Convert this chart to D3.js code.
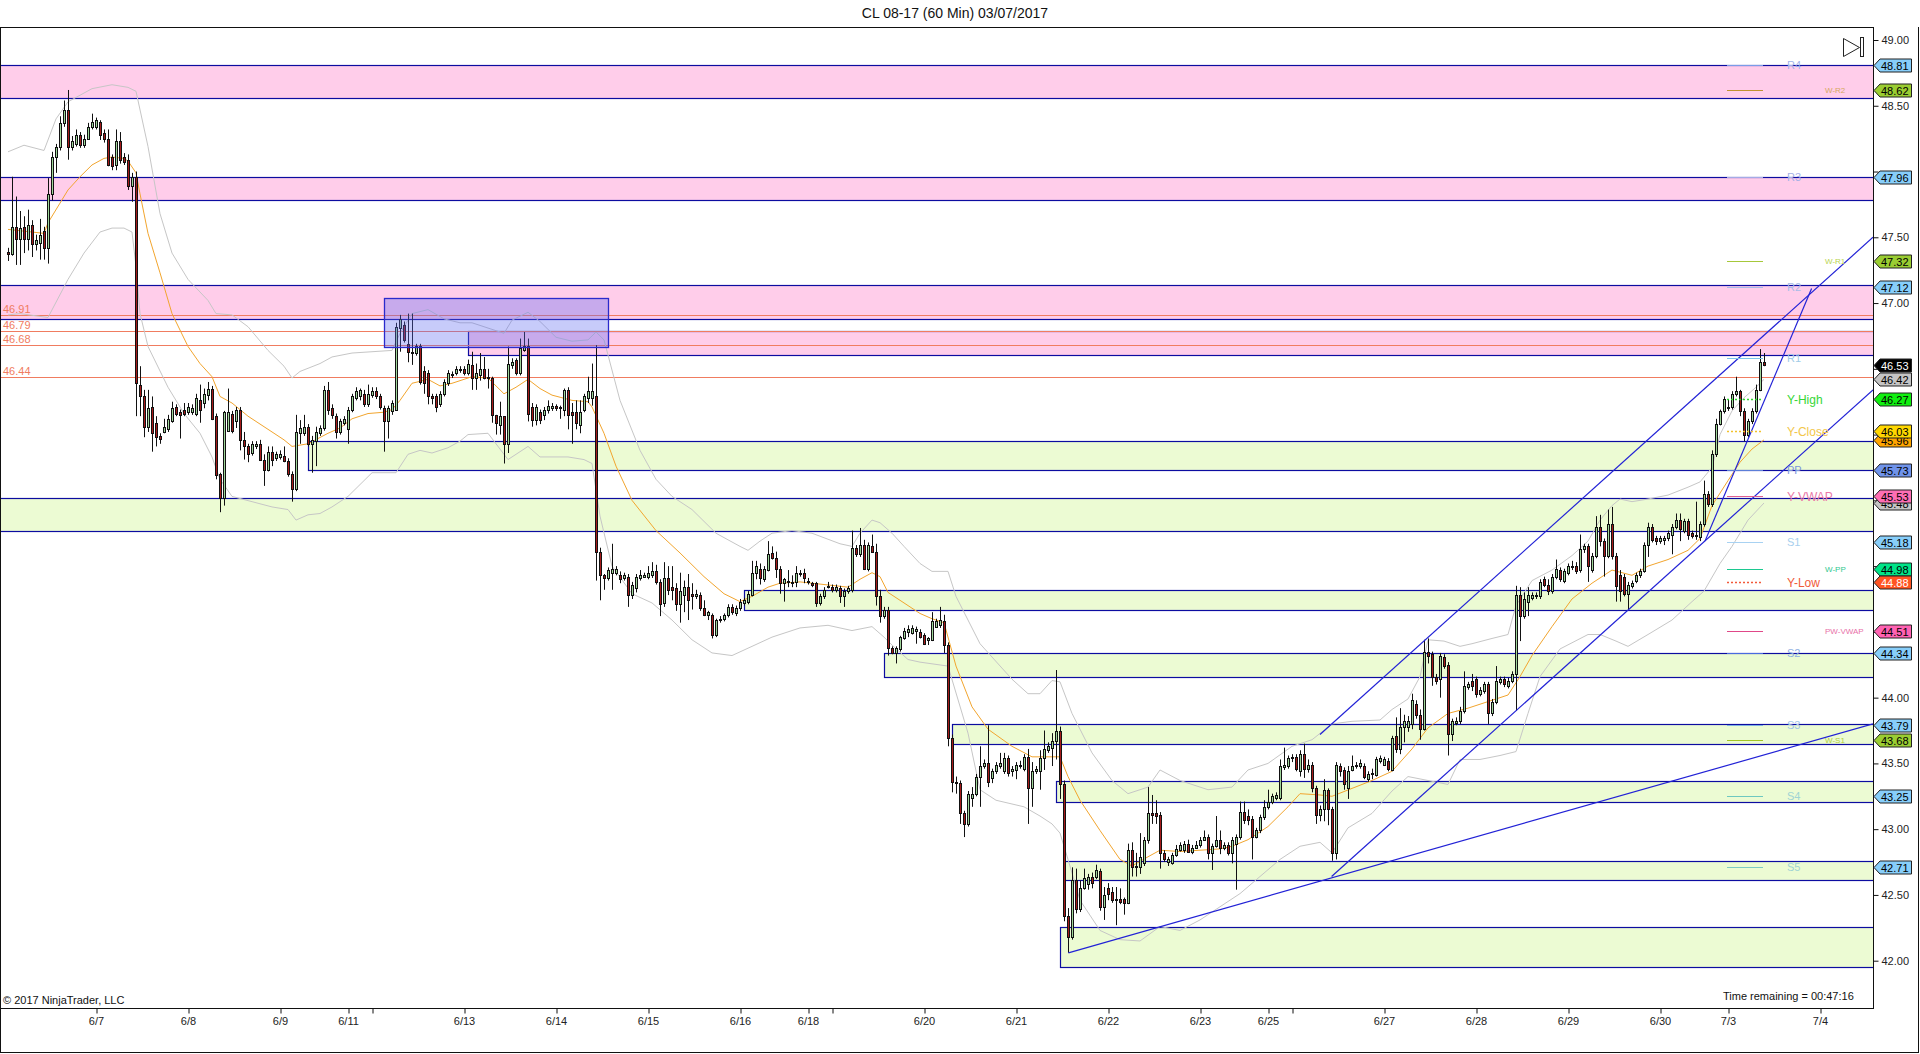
<!DOCTYPE html>
<html><head><meta charset="utf-8">
<script src="https://cdn.jsdelivr.net/npm/d3@7/dist/d3.min.js"></script>
<style>
html,body{margin:0;padding:0;background:#fff;}
svg{display:block;font-family:"Liberation Sans",Arial,sans-serif;}
</style></head><body>
<svg id="c" width="1920" height="1054"></svg>
<script>
// ---------------- DATA ----------------
const chartTitle = "CL 08-17 (60 Min)  03/07/2017";
const opens = [
47.39,47.37,47.58,47.49,47.58,47.49,47.59,47.45,47.46,47.55,
47.42,47.83,48.11,48.19,48.37,48.47,48.19,48.21,48.28,48.20,
48.25,48.34,48.34,48.38,48.29,48.25,48.11,48.05,48.23,48.11,
48.09,47.89,47.96,46.38,46.29,46.06,46.21,46.09,45.99,46.02,
46.04,46.10,46.21,46.17,46.19,46.17,46.17,46.16,46.26,46.24,
46.30,46.35,46.14,45.70,45.52,46.03,46.16,46.10,46.19,45.96,
45.91,45.86,45.91,45.93,45.81,45.73,45.87,45.82,45.83,45.84,
45.80,45.70,45.59,46.01,46.01,46.06,45.93,45.95,46.01,46.05,
46.34,46.20,46.14,46.02,46.09,46.04,46.19,46.28,46.29,46.31,
46.23,46.30,46.33,46.29,46.20,46.10,46.18,46.19,46.81,46.83,
46.69,46.63,46.62,46.67,46.48,46.47,46.29,46.29,46.23,46.31,
46.39,46.45,46.47,46.50,46.50,46.47,46.53,46.43,46.45,46.50,
46.44,46.43,46.15,46.07,46.14,45.93,46.53,46.57,46.47,46.64,
46.67,46.21,46.11,46.17,46.15,46.19,46.20,46.22,46.21,46.19,
46.34,46.17,46.17,46.07,46.19,46.28,46.28,46.29,45.11,44.93,
44.91,44.95,44.95,44.93,44.91,44.92,44.78,44.83,44.91,44.92,
44.92,44.93,44.96,44.88,44.72,44.91,44.84,44.83,44.71,44.78,
44.84,44.79,44.77,44.78,44.68,44.63,44.63,44.48,44.59,44.60,
44.63,44.69,44.64,44.68,44.72,44.73,44.78,44.95,44.98,44.90,
44.97,45.10,45.06,44.98,44.87,44.89,44.88,44.88,44.94,44.95,
44.89,44.87,44.87,44.72,44.77,44.85,44.84,44.82,44.83,44.77,
44.81,44.82,45.14,45.09,45.16,44.98,45.15,45.11,44.77,44.62,
44.67,44.38,44.34,44.37,44.45,44.50,44.49,44.51,44.50,44.48,
44.44,44.44,44.54,44.55,44.58,44.40,43.69,43.36,43.35,43.12,
43.04,43.24,43.27,43.40,43.48,43.50,43.39,43.44,43.48,43.44,
43.54,43.44,43.45,43.48,43.46,43.55,43.31,43.44,43.44,43.54,
43.60,43.62,43.67,43.75,43.34,42.34,42.18,42.61,42.39,42.55,
42.58,42.64,42.64,42.68,42.41,42.55,42.52,42.47,42.47,42.47,
42.44,42.84,42.71,42.71,42.74,42.92,43.12,43.12,43.11,42.82,
42.75,42.74,42.80,42.84,42.84,42.89,42.83,42.86,42.88,42.92,
42.94,42.82,42.87,42.92,42.86,42.88,42.82,42.89,42.94,43.13,
43.10,43.08,42.94,42.99,43.09,43.17,43.21,43.24,43.24,43.47,
43.48,43.54,43.55,43.44,43.57,43.46,43.49,43.31,43.11,43.15,
43.30,43.15,42.82,43.48,43.45,43.31,43.45,43.48,43.48,43.48,
43.38,43.42,43.41,43.52,43.49,43.52,43.45,43.71,43.61,43.78,
43.78,43.80,43.95,43.87,43.76,44.35,44.33,44.16,44.14,44.31,
44.25,43.72,43.81,43.82,43.90,44.08,44.13,44.14,44.03,44.05,
44.10,43.88,43.97,44.12,44.14,44.09,44.13,44.18,44.78,44.62,
44.73,44.76,44.77,44.77,44.90,44.86,44.81,44.92,44.97,44.89,
44.95,44.99,45.00,44.97,45.13,45.15,44.97,45.08,45.30,45.19,
45.08,45.32,45.08,44.93,44.92,44.79,44.85,44.89,44.93,44.96,
45.16,45.30,45.21,45.19,45.20,45.21,45.24,45.30,45.35,45.27,
45.34,45.25,45.24,45.22,45.32,45.55,45.47,45.85,46.08,46.18,
46.21,46.21,46.31,46.33,46.18,46.00,46.10,46.18,46.34,46.55];
const highs = [
47.42,47.96,47.81,47.70,47.66,47.71,47.63,47.52,47.64,47.58,
47.95,48.15,48.21,48.42,48.54,48.62,48.27,48.32,48.30,48.28,
48.37,48.44,48.41,48.39,48.32,48.32,48.13,48.32,48.30,48.14,
48.13,47.99,48.00,46.52,46.34,46.34,46.29,46.14,46.01,46.12,
46.15,46.25,46.23,46.19,46.24,46.24,46.23,46.31,46.38,46.35,
46.40,46.37,46.16,45.71,46.18,46.35,46.18,46.21,46.21,46.02,
45.93,45.95,45.95,45.96,45.85,45.91,45.91,45.87,45.88,45.91,
45.82,45.72,46.15,46.11,46.15,46.08,45.99,46.06,46.07,46.37,
46.40,46.23,46.16,46.12,46.14,46.21,46.31,46.36,46.35,46.34,
46.38,46.36,46.36,46.31,46.22,46.22,46.26,46.85,46.91,46.86,
46.92,46.92,46.69,46.69,46.52,46.49,46.31,46.31,46.33,46.42,
46.49,46.48,46.52,46.52,46.52,46.57,46.63,46.54,46.62,46.59,
46.50,46.44,46.15,46.25,46.14,46.67,46.58,46.58,46.73,46.78,
46.73,46.24,46.23,46.19,46.21,46.26,46.24,46.23,46.22,46.35,
46.36,46.24,46.26,46.26,46.31,46.44,46.54,46.68,45.14,44.94,
44.99,45.17,45.00,44.96,44.95,44.94,44.88,44.94,44.97,44.95,
45.00,45.03,45.01,44.90,45.03,45.00,45.00,44.87,44.95,44.89,
44.94,44.87,44.82,44.80,44.74,44.66,44.64,44.60,44.62,44.64,
44.71,44.71,44.70,44.75,44.76,44.81,45.04,45.04,45.02,45.00,
45.19,45.15,45.11,45.00,44.91,44.97,44.93,45.00,44.97,44.98,
44.91,44.88,44.88,44.79,44.84,44.88,44.86,44.86,44.85,44.83,
44.85,45.27,45.16,45.29,45.20,45.18,45.24,45.17,44.82,44.69,
44.69,44.39,44.39,44.47,44.53,44.55,44.55,44.54,44.52,44.49,
44.46,44.65,44.60,44.69,44.63,44.42,43.72,43.40,43.37,43.14,
43.29,43.32,43.42,43.63,43.53,43.79,43.46,43.51,43.58,43.58,
43.56,43.48,43.51,43.52,43.57,43.61,43.51,43.48,43.60,43.75,
43.66,43.73,44.21,43.78,43.37,42.40,42.71,42.70,42.61,42.70,
42.66,42.67,42.73,42.70,42.56,42.59,42.56,42.56,42.55,42.48,
42.89,42.90,42.82,42.97,42.94,43.32,43.26,43.22,43.13,42.84,
42.79,42.82,42.88,42.90,42.91,42.92,42.88,42.91,42.94,42.99,
42.96,42.89,43.10,42.99,42.90,42.90,42.94,42.96,43.21,43.21,
43.15,43.10,43.01,43.11,43.22,43.30,43.27,43.28,43.53,43.62,
43.56,43.57,43.57,43.60,43.65,43.53,43.51,43.33,43.18,43.38,
43.31,43.17,43.51,43.50,43.47,43.48,43.56,43.51,43.53,43.50,
43.44,43.46,43.55,43.56,43.55,43.54,43.71,43.85,43.92,43.87,
43.86,44.03,43.98,43.91,44.44,44.45,44.35,44.18,44.34,44.33,
44.27,43.84,43.85,43.93,44.20,44.12,44.18,44.16,44.08,44.12,
44.12,43.99,44.24,44.16,44.16,44.15,44.20,44.85,44.84,44.80,
44.84,44.80,44.80,44.90,44.92,44.90,44.94,45.05,44.99,44.98,
45.02,45.04,45.03,45.24,45.17,45.17,45.10,45.38,45.39,45.21,
45.43,45.45,45.10,44.97,44.94,44.88,44.89,44.95,44.98,45.18,
45.33,45.32,45.23,45.23,45.23,45.27,45.32,45.40,45.40,45.36,
45.36,45.27,45.49,45.34,45.65,45.57,45.88,46.12,46.19,46.29,
46.27,46.33,46.44,46.34,46.20,46.12,46.20,46.38,46.65,46.62];
const lows = [
47.32,47.36,47.29,47.29,47.38,47.40,47.35,47.40,47.33,47.33,
47.30,47.78,47.99,48.16,48.34,48.09,48.16,48.19,48.18,48.18,
48.24,48.32,48.32,48.24,48.22,48.04,48.01,48.01,48.06,48.05,
47.86,47.77,46.14,46.14,45.98,46.02,45.87,45.91,45.93,46.01,
46.02,46.09,46.14,45.97,46.14,46.15,46.15,46.14,46.09,46.20,
46.26,46.11,45.66,45.41,45.46,46.02,46.01,46.05,45.88,45.81,
45.79,45.84,45.89,45.80,45.61,45.72,45.76,45.80,45.81,45.79,
45.68,45.49,45.57,45.93,45.99,45.91,45.71,45.76,45.99,46.03,
46.15,46.12,45.97,46.00,46.07,45.93,46.17,46.26,46.26,46.21,
46.21,46.28,46.27,46.19,45.87,45.97,46.15,46.18,46.63,46.70,
46.55,46.53,46.60,46.38,46.31,46.23,46.23,46.17,46.21,46.29,
46.37,46.43,46.45,46.47,46.45,46.45,46.34,46.34,46.41,46.42,
46.35,46.09,46.00,46.00,45.78,45.86,46.50,46.45,46.45,46.63,
46.10,46.06,46.07,46.08,46.11,46.16,46.18,46.18,46.12,46.14,
46.04,45.93,46.04,46.01,46.17,46.24,46.22,44.89,44.74,44.82,
44.89,44.82,44.93,44.87,44.89,44.69,44.75,44.80,44.89,44.91,
44.90,44.91,44.86,44.62,44.69,44.78,44.74,44.66,44.57,44.65,
44.59,44.67,44.75,44.66,44.62,44.59,44.45,44.46,44.57,44.58,
44.61,44.63,44.62,44.66,44.70,44.71,44.77,44.90,44.86,44.88,
44.96,45.05,44.91,44.79,44.73,44.84,44.84,44.84,44.92,44.87,
44.86,44.84,44.69,44.70,44.75,44.83,44.80,44.80,44.72,44.69,
44.79,44.80,45.07,45.07,44.97,44.96,45.10,44.70,44.57,44.60,
44.32,44.33,44.26,44.35,44.44,44.46,44.48,44.41,44.45,44.40,
44.40,44.43,44.53,44.53,44.34,43.63,43.28,43.27,43.04,42.94,
43.02,43.17,43.25,43.17,43.46,43.32,43.35,43.42,43.46,43.42,
43.40,43.40,43.38,43.46,43.44,43.04,43.17,43.42,43.30,43.45,
43.58,43.48,43.53,43.23,42.30,42.06,42.16,42.36,42.37,42.54,
42.54,42.55,42.62,42.38,42.31,42.46,42.44,42.27,42.43,42.35,
42.43,42.64,42.64,42.66,42.72,42.89,43.04,43.04,42.70,42.75,
42.72,42.73,42.79,42.83,42.82,42.82,42.81,42.85,42.86,42.91,
42.77,42.69,42.86,42.81,42.84,42.80,42.74,42.54,42.92,43.04,
43.03,42.77,42.93,42.97,43.07,43.15,43.19,43.22,43.22,43.45,
43.46,43.51,43.44,43.40,43.39,43.43,43.28,43.04,43.06,43.06,
43.03,42.76,42.77,43.40,43.30,43.23,43.44,43.46,43.46,43.38,
43.36,43.38,43.40,43.50,43.48,43.44,43.44,43.58,43.57,43.66,
43.74,43.76,43.84,43.68,43.75,44.26,44.09,44.10,44.00,44.22,
43.56,43.67,43.79,43.80,43.88,44.06,44.05,44.00,44.01,44.03,
43.80,43.86,43.95,44.10,44.08,44.07,44.11,43.90,44.43,44.60,
44.62,44.74,44.75,44.75,44.84,44.78,44.79,44.90,44.88,44.87,
44.93,44.97,44.94,44.95,45.10,44.88,44.95,45.06,45.15,44.92,
45.06,45.05,44.73,44.73,44.77,44.67,44.83,44.87,44.91,44.95,
45.07,45.18,45.16,45.17,45.16,45.19,45.09,45.28,45.19,45.25,
45.20,45.21,45.20,45.19,45.30,45.45,45.45,45.83,46.07,46.16,
46.18,46.19,46.29,46.14,45.95,45.98,46.08,46.16,46.33,46.52];
const closes = [
47.37,47.58,47.49,47.57,47.49,47.59,47.45,47.48,47.52,47.42,
47.83,48.11,48.19,48.37,48.47,48.19,48.23,48.28,48.20,48.25,
48.34,48.38,48.39,48.28,48.25,48.05,48.04,48.23,48.09,48.07,
47.89,47.96,46.39,46.29,46.06,46.20,46.01,45.98,45.97,46.06,
46.12,46.20,46.16,46.15,46.16,46.21,46.20,46.28,46.19,46.31,
46.35,46.12,45.69,45.52,46.17,46.17,46.03,46.19,45.96,45.91,
45.85,45.93,45.93,45.81,45.73,45.87,45.81,45.85,45.85,45.80,
45.70,45.59,46.02,46.05,46.06,45.93,45.96,46.02,46.05,46.34,
46.19,46.15,46.02,46.10,46.12,46.19,46.29,46.33,46.34,46.23,
46.31,46.33,46.29,46.21,46.10,46.20,46.24,46.82,46.88,46.72,
46.63,46.62,46.67,46.40,46.39,46.29,46.28,46.21,46.31,46.40,
46.47,46.46,46.50,46.50,46.47,46.54,46.43,46.47,46.50,46.43,
46.43,46.15,46.09,46.14,45.93,46.54,46.55,46.47,46.66,46.67,
46.16,46.11,46.21,46.11,46.19,46.22,46.22,46.20,46.20,46.34,
46.15,46.15,46.09,46.17,46.29,46.33,46.33,45.11,44.93,44.91,
44.97,44.98,44.98,44.90,44.93,44.78,44.86,44.92,44.93,44.93,
44.95,44.96,44.88,44.71,44.91,44.82,44.82,44.71,44.81,44.84,
44.74,44.77,44.79,44.68,44.63,44.65,44.48,44.59,44.60,44.63,
44.69,44.65,44.68,44.73,44.74,44.79,44.95,45.00,44.91,44.98,
45.09,45.06,44.98,44.87,44.90,44.88,44.88,44.95,44.95,44.91,
44.88,44.86,44.72,44.77,44.82,44.85,44.82,44.84,44.77,44.81,
44.83,45.14,45.09,45.16,44.98,45.16,45.11,44.77,44.62,44.67,
44.38,44.34,44.38,44.46,44.51,44.52,44.53,44.52,44.46,44.41,
44.45,44.58,44.58,44.59,44.40,43.69,43.36,43.36,43.12,43.04,
43.27,43.27,43.40,43.48,43.50,43.36,43.44,43.49,43.50,43.54,
43.43,43.46,43.49,43.49,43.55,43.31,43.44,43.46,43.54,43.61,
43.63,43.67,43.75,43.34,42.34,42.18,42.61,42.39,42.55,42.63,
42.64,42.59,42.69,42.41,42.50,42.51,42.46,42.46,42.45,42.44,
42.84,42.71,42.72,42.79,42.92,43.12,43.11,43.10,42.82,42.77,
42.77,42.80,42.85,42.88,42.89,42.83,42.86,42.88,42.92,42.94,
42.82,42.87,42.92,42.86,42.88,42.82,42.92,42.94,43.13,43.07,
43.07,42.94,42.99,43.09,43.17,43.21,43.25,43.26,43.48,43.49,
43.54,43.55,43.46,43.57,43.46,43.49,43.31,43.11,43.15,43.30,
43.15,42.82,43.49,43.44,43.34,43.44,43.48,43.49,43.50,43.40,
43.42,43.43,43.53,43.54,43.53,43.46,43.69,43.61,43.78,43.82,
43.82,43.98,43.87,43.76,44.35,44.32,44.16,44.13,44.32,44.24,
43.72,43.82,43.82,43.90,44.09,44.10,44.09,44.03,44.06,44.10,
43.88,43.97,44.13,44.14,44.10,44.13,44.18,44.78,44.62,44.75,
44.78,44.78,44.78,44.88,44.86,44.81,44.92,44.98,44.90,44.96,
45.00,45.00,44.96,45.13,45.15,45.00,45.08,45.30,45.19,45.08,
45.32,45.08,44.85,44.81,44.79,44.86,44.87,44.93,44.96,45.16,
45.30,45.20,45.19,45.21,45.21,45.25,45.30,45.35,45.28,45.34,
45.24,45.23,45.23,45.32,45.55,45.47,45.85,46.08,46.18,46.27,
46.20,46.31,46.33,46.18,46.00,46.10,46.18,46.34,46.55,46.53];

// channel indicator (orange middle line, grey upper/lower lines), read at sample bars
const upperIdx = [0,4,9,12,15,18,21,26,30,32,35,38,41,45,50,52,56,60,65,69,71,73,78,81,86,91,96,98,101,105,109,113,116,124,126,130,133,137,141,145,147,149,153,158,162,166,171,177,183,185,188,191,196,201,208,211,213,216,218,221,224,228,231,235,237,243,251,255,258,261,263,266,271,276,280,285,288,293,300,306,310,315,321,326,331,336,343,346,350,353,355,359,363,366,371,375,377,381,386,391,395,398,401,403,406,410,415,420,423,426,428,431,434,437,439];
const upperVal = [48.15,48.20,48.16,48.40,48.53,48.58,48.63,48.66,48.64,48.61,48.19,47.68,47.38,47.18,47.02,46.92,46.91,46.82,46.64,46.52,46.43,46.48,46.54,46.59,46.62,46.63,46.64,46.77,46.92,46.95,46.88,46.85,46.85,46.77,46.87,46.93,46.86,46.74,46.71,46.72,46.78,46.72,46.26,45.88,45.66,45.53,45.43,45.25,45.15,45.12,45.19,45.25,45.27,45.25,45.17,45.15,45.25,45.35,45.33,45.25,45.15,45.02,44.96,44.96,44.77,44.41,44.14,44.03,44.03,44.13,44.12,43.88,43.58,43.37,43.27,43.32,43.45,43.37,43.30,43.32,43.45,43.50,43.63,43.68,43.80,43.82,43.83,43.91,43.99,44.16,44.44,44.43,44.39,44.41,44.45,44.48,44.70,44.89,44.97,45.08,45.19,45.35,45.46,45.51,45.49,45.51,45.54,45.60,45.64,45.75,46.00,46.18,46.28,46.36,46.42];
const lowerIdx = [0,3,10,15,19,23,26,29,31,32,33,35,40,44,48,51,53,56,61,66,70,72,75,78,81,85,88,91,94,97,100,103,106,110,113,115,120,125,130,133,140,144,146,148,151,156,161,166,171,176,181,186,191,198,205,211,216,219,221,225,228,235,240,243,247,254,258,261,263,265,268,273,278,283,288,293,298,303,308,313,318,323,328,331,335,341,346,350,355,360,363,368,373,377,380,383,388,395,398,402,405,410,416,421,424,428,431,435,439];
const lowerVal = [46.91,46.92,46.89,47.18,47.38,47.54,47.57,47.57,47.54,47.28,46.92,46.67,46.36,46.16,46.01,45.83,45.66,45.53,45.49,45.45,45.43,45.35,45.39,45.40,45.45,45.53,45.62,45.71,45.71,45.71,45.85,45.88,45.86,45.90,45.95,46.00,46.01,45.81,45.91,45.83,45.83,45.81,45.78,45.38,45.00,44.79,44.72,44.59,44.44,44.34,44.32,44.39,44.46,44.53,44.55,44.51,44.54,44.46,44.40,44.29,44.27,44.24,43.73,43.30,43.22,43.17,43.10,43.04,42.97,42.77,42.46,42.23,42.16,42.15,42.26,42.23,42.31,42.41,42.51,42.64,42.77,42.87,42.90,42.82,43.01,43.12,43.29,43.40,43.37,43.34,43.53,43.53,43.56,43.59,43.88,44.16,44.37,44.48,44.48,44.43,44.39,44.48,44.59,44.73,44.81,45.02,45.15,45.35,45.48];
const midIdx = [0,6,9,10,13,15,18,21,24,26,29,30,32,33,35,38,41,45,48,51,53,56,60,65,69,71,75,80,83,86,90,94,96,98,101,105,108,111,113,116,120,124,127,130,133,136,141,145,146,149,152,156,162,168,174,179,183,186,190,193,198,204,210,213,216,218,220,225,228,231,234,237,241,245,251,256,260,263,265,268,273,278,281,285,288,293,298,303,306,310,315,320,323,328,331,336,341,346,351,355,360,365,370,375,378,381,386,391,396,401,406,410,415,420,423,426,430,433,436,439];
const midVal = [47.56,47.54,47.53,47.61,47.76,47.86,47.96,48.05,48.10,48.11,48.10,48.08,47.99,47.83,47.53,47.23,46.92,46.67,46.54,46.44,46.29,46.24,46.14,46.04,45.96,45.91,45.93,46.01,46.05,46.12,46.16,46.17,46.19,46.26,46.39,46.42,46.37,46.39,46.41,46.44,46.43,46.31,46.36,46.42,46.35,46.30,46.26,46.25,46.21,46.01,45.76,45.50,45.27,45.10,44.92,44.79,44.73,44.77,44.84,44.87,44.88,44.86,44.84,44.90,44.95,44.92,44.80,44.70,44.64,44.60,44.57,44.24,43.93,43.76,43.63,43.55,43.55,43.55,43.40,43.22,42.99,42.77,42.72,42.79,42.84,42.83,42.84,42.85,42.87,42.92,43.02,43.17,43.27,43.26,43.25,43.31,43.37,43.44,43.61,43.77,43.88,43.92,43.97,44.02,44.16,44.32,44.54,44.75,44.87,44.97,44.93,45.00,45.05,45.12,45.21,45.46,45.65,45.79,45.89,45.96];

// time axis
const dateTickIdx = [22,45,68,85,91,114,137,160,183,200,206,229,252,275,298,315,321,344,367,390,413,430,453];
const dateTickLabels = ["6/7","6/8","6/9","6/11","","6/13","6/14","6/15","6/16","6/18","","6/20","6/21","6/22","6/23","6/25","","6/27","6/28","6/29","6/30","7/3","7/4"];
const priceTicks = [42,42.5,43,43.5,44,44.5,45,45.5,46,46.5,47,47.5,48,48.5,49];

// supply / demand zones: top, bottom, starting bar (null = from left edge)
const zoneTops    = [48.81,47.96,47.14,46.79,45.95,45.52,44.82,44.34,43.80,43.37,42.76,42.26];
const zoneBottoms = [48.56,47.78,46.88,46.605,45.73,45.27,44.67,44.155,43.65,43.21,42.61,41.95];
const zoneStart   = [null,null,null,115,75,null,184,219,236,262,264,263];
const zoneType    = ["s","s","s","s","d","d","d","d","d","d","d","d"];

// drawn box (bar range, prices)
const boxStart = 94, boxEnd = 150, boxTop = 47.04, boxBottom = 46.665;

// left labelled horizontal levels
const levelValues = [46.91,46.79,46.68,46.44];

// pivot levels at right
const pivotNames  = ["R4","W-R2","R3","W-R1","R2","R1","Y-High","Y-Close","PP","Y-VWAP","S1","W-PP","Y-Low","PW-VWAP","S2","S3","W-S1","S4","S5"];
const pivotValues = [48.81,48.62,47.96,47.32,47.12,46.58,46.27,46.03,45.73,45.53,45.18,44.98,44.88,44.51,44.34,43.79,43.68,43.25,42.71];

// price markers on the axis (drawing order)
const markerValues = [45.48,45.96,48.81,48.62,47.96,47.32,47.12,46.42,46.27,46.03,45.73,45.53,45.18,44.98,44.88,44.51,44.34,43.79,43.68,43.25,42.71,46.53];

// trend lines (bar index, price)
const trendX1 = [328,330.9,424.25,265.1];
const trendY1 = [43.72,42.64,45.19,42.06];
const trendX2 = [466.25,466.25,450.9,466.25];
const trendY2 = [47.50,46.34,47.11,43.80];

// ---------------- DRAWING ----------------
const plotR = 1873, plotT = 27, plotB = 1008;
const x = d3.scaleLinear().domain([0,1]).range([8,12]);
const y = d3.scaleLinear().domain([42,49]).range([960.7,40]);
const svg = d3.select("#c");
svg.append("rect").attr("width",1920).attr("height",1054).attr("fill","#fff");
svg.append("defs").append("clipPath").attr("id","pc").append("rect")
   .attr("x",1).attr("y",plotT+1).attr("width",plotR-1).attr("height",plotB-plotT-1);
const g = svg.append("g").attr("clip-path","url(#pc)");
const px = v => Math.round(v)+0.5;

// zones
const zoneCol = {s:"#ffcdea", d:"#ecfbd3"};
zoneTops.forEach((t,k)=>{
  const x0 = zoneStart[k]==null ? -2 : Math.round(x(zoneStart[k]))+0.5;
  g.append("rect").attr("x",x0).attr("y",px(y(t))).attr("width",plotR+2-x0)
   .attr("height",Math.round(y(zoneBottoms[k]))-Math.round(y(t)))
   .attr("fill",zoneCol[zoneType[k]]).attr("stroke","#0c0ca0").attr("stroke-width",1.2);
});

// left coral levels
levelValues.forEach(v=>{
  g.append("line").attr("x1",0).attr("x2",plotR).attr("y1",px(y(v))).attr("y2",px(y(v)))
   .attr("stroke","#f07c60").attr("stroke-width",1);
  g.append("text").attr("x",3).attr("y",y(v)-2).attr("font-size",11).attr("fill","#f07c60").text(v.toFixed(2));
});

// channel lines
const mkLine = (idx,val)=> d3.line().x((d,i)=>x(idx[i])).y(d=>y(d))(val);
g.append("path").attr("d",mkLine(upperIdx,upperVal)).attr("fill","none").attr("stroke","#c6c6c6").attr("stroke-width",1);
g.append("path").attr("d",mkLine(lowerIdx,lowerVal)).attr("fill","none").attr("stroke","#c6c6c6").attr("stroke-width",1);
g.append("path").attr("d",mkLine(midIdx,midVal)).attr("fill","none").attr("stroke","#f2a52e").attr("stroke-width",1);

// candles
const cg = g.append("g");
closes.forEach((c,i)=>{
  const o = opens[i];
  const cx = Math.round(x(i))+0.5;
  cg.append("line").attr("x1",cx).attr("x2",cx).attr("y1",y(highs[i])).attr("y2",y(lows[i]))
    .attr("stroke","#111").attr("stroke-width",1);
  const yt = Math.round(y(Math.max(o,c))), yb = Math.round(y(Math.min(o,c)));
  cg.append("rect").attr("x",cx-1).attr("y",yt+0.5).attr("width",2).attr("height",Math.max(1,yb-yt))
    .attr("fill", c>=o ? "#9fd69a" : "#a51a1a").attr("stroke","#111").attr("stroke-width",1);
});

// drawn box
g.append("rect").attr("x",px(x(boxStart))).attr("y",px(y(boxTop)))
 .attr("width",Math.round(x(boxEnd)-x(boxStart))).attr("height",Math.round(y(boxBottom)-y(boxTop)))
 .attr("fill","rgba(95,105,240,0.35)").attr("stroke","#2a2acc").attr("stroke-width",1.3);

// trend lines
trendX1.forEach((v,k)=>{
  g.append("line").attr("x1",x(v)).attr("y1",y(trendY1[k])).attr("x2",x(trendX2[k])).attr("y2",y(trendY2[k]))
   .attr("stroke","#2222d6").attr("stroke-width",1.2);
});

// pivot short lines + labels
const pivStyle = {
 "R4":["#7a9ce8","#9fb3ea",11,0],"W-R2":["#c0932e","#d6a860",8,1],"R3":["#a4aae6","#a4b0e6",11,0],
 "W-R1":["#a6c83a","#b8d450",8,1],"R2":["#a8bce8","#a8bce8",11,0],"R1":["#7cc6ea","#a0cce8",11,0],
 "Y-High":["#2ed62e","#36d636",12,0,"2,2"],"Y-Close":["#f2c22e","#f2c64a",12,0,"2,2"],
 "PP":["#5c7ed8","#7c94dc",11,0],"Y-VWAP":["#e0608e","#ea7aa6",12,0],"S1":["#a8d2f2","#a8d0ee",11,0],
 "W-PP":["#1cc890","#30c890",8,1],"Y-Low":["#f25a3a","#f05a3a",12,0,"2,2"],"PW-VWAP":["#e04888","#e870a8",8,1],
 "S2":["#4a6ae0","#90b0e2",11,0],"S3":["#7cb0e2","#a0c4e8",11,0],"W-S1":["#a2c424","#b0d040",8,1],
 "S4":["#6ec8c0","#a0d4d4",11,0],"S5":["#7ccac4","#a0d4d4",11,0]};
pivotNames.forEach((n,k)=>{
  const st = pivStyle[n], yy = px(y(pivotValues[k]));
  const ln = svg.append("line").attr("x1",1727).attr("x2",1763).attr("y1",yy).attr("y2",yy)
    .attr("stroke",st[0]).attr("stroke-width",st[4]?1.5:1);
  if (st[4]) ln.attr("stroke-dasharray",st[4]);
  svg.append("text").attr("x",st[3]?1825:1787).attr("y",yy+st[2]*0.36).attr("font-size",st[2])
    .attr("fill",st[1]).text(n);
});

// frame / axes lines
svg.append("line").attr("x1",0).attr("x2",plotR+1).attr("y1",plotT+0.5).attr("y2",plotT+0.5).attr("stroke","#111");
svg.append("line").attr("x1",plotR+0.5).attr("x2",plotR+0.5).attr("y1",plotT).attr("y2",plotB+1).attr("stroke","#111");
svg.append("line").attr("x1",0).attr("x2",plotR+1).attr("y1",plotB+0.5).attr("y2",plotB+0.5).attr("stroke","#111");
svg.append("line").attr("x1",0.5).attr("x2",0.5).attr("y1",plotT).attr("y2",1053).attr("stroke","#111");
svg.append("line").attr("x1",0).attr("x2",1919).attr("y1",1052.5).attr("y2",1052.5).attr("stroke","#111");
svg.append("line").attr("x1",1918.5).attr("x2",1918.5).attr("y1",plotT).attr("y2",1053).attr("stroke","#111");

// right price axis (labels that sit under a price marker are hidden, as in the reference)
const ya = svg.append("g").attr("transform",`translate(${plotR+0.5},0)`)
  .call(d3.axisRight(y).tickValues(priceTicks).tickSize(5).tickFormat(d3.format(".2f")));
ya.select(".domain").remove();
ya.selectAll("line").attr("stroke","#111");
ya.selectAll("text").attr("font-size",11).attr("fill","#222").attr("font-family","Liberation Sans, Arial").attr("x",8);
ya.selectAll(".tick").filter(t => markerValues.some(m => Math.abs(y(m)-y(t)) < 12)).select("text").remove();

// bottom time axis
const xa = svg.append("g").attr("transform",`translate(0,${plotB+0.5})`)
  .call(d3.axisBottom(x).tickValues(dateTickIdx).tickSize(5).tickFormat((d,i)=>dateTickLabels[i]));
xa.select(".domain").remove();
xa.selectAll("line").attr("stroke","#111").attr("transform","translate(0.5,0)");
xa.selectAll("text").attr("font-size",11).attr("fill","#222").attr("font-family","Liberation Sans, Arial").attr("y",9);

// price markers
const mkCol = {45.48:["#c4c4c4","#000"],45.96:["#ffa500","#000"],48.81:["#87cefa","#000"],48.62:["#9acd32","#000"],
 47.96:["#87cefa","#000"],47.32:["#9acd32","#000"],47.12:["#87cefa","#000"],46.42:["#c4c4c4","#000"],
 46.27:["#10f010","#000"],46.03:["#ffd700","#000"],45.73:["#6f93ea","#000"],45.53:["#ff6eb4","#000"],
 45.18:["#87cefa","#000"],44.98:["#00e488","#000"],44.88:["#ff5422","#fff"],44.51:["#ff62b2","#000"],
 44.34:["#87cefa","#000"],43.79:["#87cefa","#000"],43.68:["#9acd32","#000"],43.25:["#87cefa","#000"],
 42.71:["#87cefa","#000"],46.53:["#000","#fff"]};
markerValues.forEach(v=>{
  const yy = Math.round(y(v))+0.5, c = mkCol[v];
  svg.append("path").attr("d",`M${plotR+1},${yy} L${plotR+7},${yy-6.5} L1911.5,${yy-6.5} L1911.5,${yy+6.5} L${plotR+7},${yy+6.5} Z`)
    .attr("fill",c[0]).attr("stroke","#222").attr("stroke-width",1);
  svg.append("text").attr("x",1881).attr("y",yy+4).attr("font-size",11).attr("fill",c[1]).text(v.toFixed(2));
});

// title and texts
svg.append("text").attr("x",955).attr("y",18).attr("text-anchor","middle").attr("font-size",14).attr("fill","#111").text(chartTitle);
svg.append("text").attr("x",3).attr("y",1004).attr("font-size",11).attr("fill","#111").text("© 2017 NinjaTrader, LLC");
svg.append("text").attr("x",1723).attr("y",1000).attr("font-size",11).attr("fill","#111").text("Time remaining = 00:47:16");

// play-to-end icon
svg.append("path").attr("d","M1843.5,38.5 L1843.5,56.5 L1859.5,47.5 Z").attr("fill","#fff").attr("stroke","#222");
svg.append("rect").attr("x",1860.5).attr("y",37.5).attr("width",3).attr("height",19).attr("fill","#fff").attr("stroke","#222");
</script>
</body></html>
